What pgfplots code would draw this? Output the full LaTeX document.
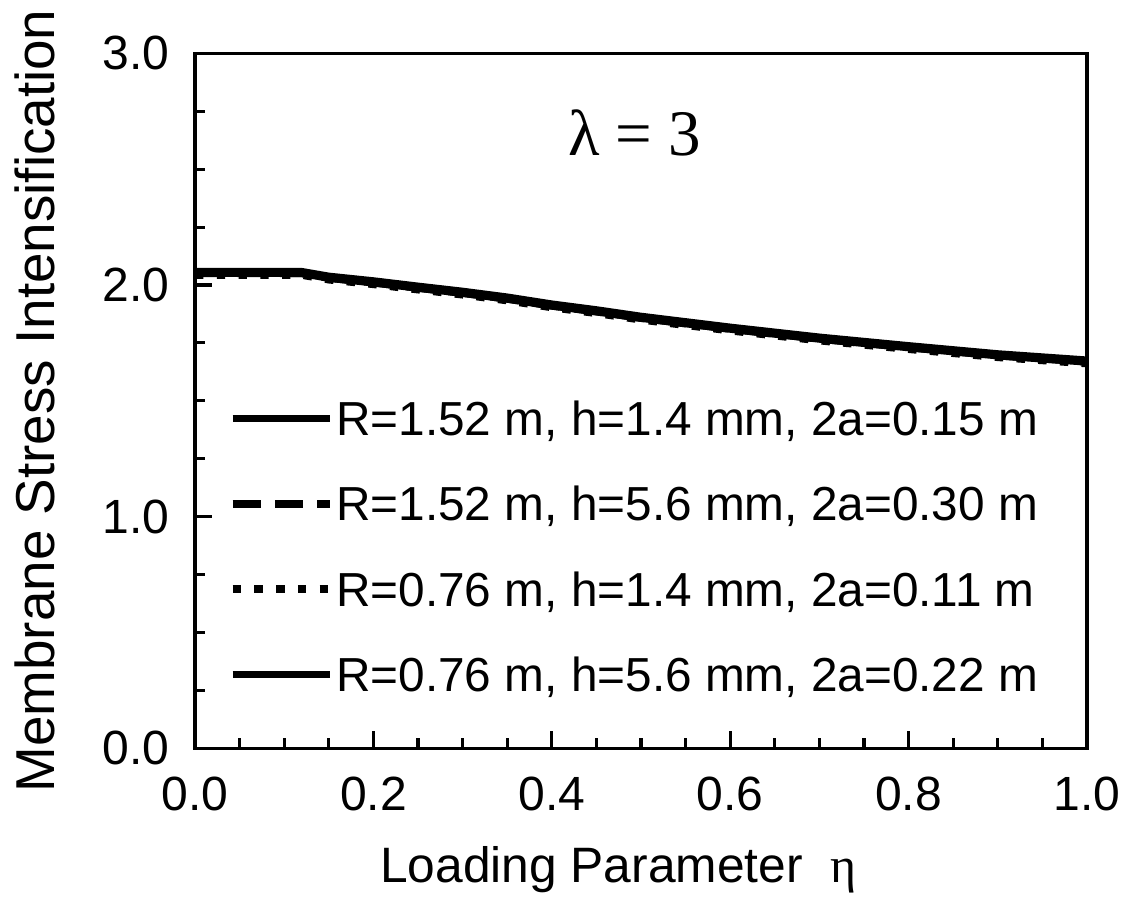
\documentclass[border=0pt]{standalone}
\usepackage{fontspec}
\setmainfont{Liberation Sans}
\newfontfamily\serif{Liberation Serif}
\usepackage{pgfplots}
\pgfplotsset{compat=1.18}

\begin{document}
\begin{tikzpicture}
\begin{axis}[
  scale only axis,
  width=315.75pt, height=246pt,
  xmin=0, xmax=1, ymin=0, ymax=3,
  axis line style={line width=1.1pt},
  xtick={0,0.2,...,1.0},
  ytick={0,1,2,3},
  minor x tick num=3,
  minor y tick num=3,
  xtick pos=bottom, ytick pos=left,
  tick align=inside,
  major tick length=6pt, minor tick length=3.5pt,
  every tick/.style={black, line width=1.1pt},
  /pgf/number format/fixed,
  /pgf/number format/fixed zerofill,
  /pgf/number format/precision=1,
  /pgf/number format/assume math mode=true,
  tick label style={font=\fontsize{17}{20}\selectfont},
  xticklabel style={yshift=-6.5pt},
  yticklabel style={xshift=-5.5pt},
  xlabel={Loading Parameter\ \ {\serif η}},
  ylabel={Membrane Stress Intensification},
  xlabel style={font=\fontsize{17.6}{20}\selectfont, at={(axis description cs:0.5,0)}, anchor=base, yshift=-47.4pt, xshift=-8pt},
  ylabel style={font=\fontsize{19.4}{22}\selectfont, at={(axis description cs:0,0.5)}, anchor=center, yshift=56.6pt},
  legend image code/.code={\draw[#1] (0pt,0pt) -- (34.3pt,0pt);},
  legend style={draw=none, fill=none, inner sep=0pt, outer sep=0pt,
    at={(rel axis cs:0.038,0.4995)}, anchor=north west,
    row sep=18.0pt, column sep=1pt,
    cells={anchor=west},
    nodes={inner sep=0pt, text height=12.2pt, text depth=0pt, font=\fontsize{16.9}{20}\selectfont}},
]
\addplot[black, line width=2.7pt] coordinates {
(0,2.057) (0.05,2.057) (0.10,2.057) (0.12,2.057) (0.15,2.037) (0.20,2.017)
(0.25,1.994) (0.30,1.972) (0.35,1.947) (0.40,1.917) (0.45,1.892) (0.50,1.864)
(0.60,1.817) (0.70,1.774) (0.80,1.737) (0.90,1.702) (1.00,1.675)
};
\addlegendentry{R=1.52 m, h=1.4 mm, 2a=0.15 m}
\addplot[black, line width=2.7pt, dash pattern=on 10pt off 5pt] coordinates {
(0,2.050) (0.05,2.050) (0.10,2.050) (0.12,2.050) (0.15,2.030) (0.20,2.010)
(0.25,1.987) (0.30,1.965) (0.35,1.940) (0.40,1.910) (0.45,1.885) (0.50,1.857)
(0.60,1.810) (0.70,1.767) (0.80,1.730) (0.90,1.695) (1.00,1.668)
};
\addlegendentry{R=1.52 m, h=5.6 mm, 2a=0.30 m}
\addplot[black, line width=2.7pt, dash pattern=on 3pt off 4.7pt] coordinates {
(0,2.043) (0.05,2.043) (0.10,2.043) (0.12,2.043) (0.15,2.023) (0.20,2.003)
(0.25,1.980) (0.30,1.958) (0.35,1.933) (0.40,1.903) (0.45,1.878) (0.50,1.850)
(0.60,1.803) (0.70,1.760) (0.80,1.723) (0.90,1.688) (1.00,1.661)
};
\addlegendentry{R=0.76 m, h=1.4 mm, 2a=0.11 m}
\addplot[black, line width=2.5pt] coordinates {
(0,2.050) (0.05,2.050) (0.10,2.050) (0.12,2.049) (0.15,2.029) (0.20,2.009)
(0.25,1.986) (0.30,1.964) (0.35,1.939) (0.40,1.909) (0.45,1.884) (0.50,1.856)
(0.60,1.809) (0.70,1.766) (0.80,1.729) (0.90,1.694) (1.00,1.667)
};
\addlegendentry{R=0.76 m, h=5.6 mm, 2a=0.22 m}
\node[font=\serif\fontsize{23}{26}\selectfont] at (axis cs:0.493,2.655) {λ = 3};
\end{axis}
\path (-69.03pt,-55.22pt) rectangle (330.97pt,264.78pt);
\end{tikzpicture}
\end{document}
